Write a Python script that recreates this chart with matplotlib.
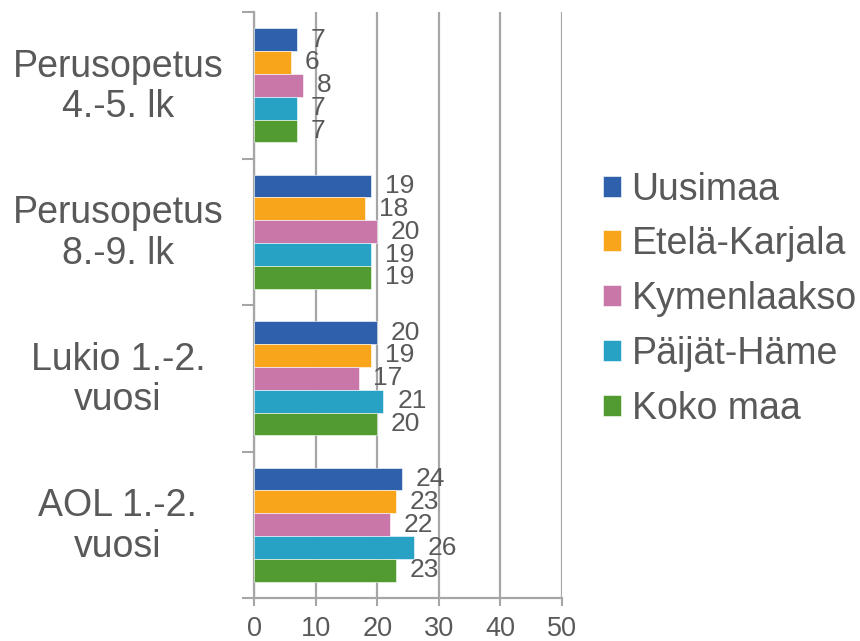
import matplotlib.pyplot as plt
import numpy as np

plt.rcParams['font.family'] = ['Liberation Sans', 'DejaVu Sans']

# data
categories = ['Perusopetus\n4.-5. lk', 'Perusopetus\n8.-9. lk', 'Lukio 1.-2.\nvuosi', 'AOL 1.-2.\nvuosi']
series = ['Uusimaa', 'Etelä-Karjala', 'Kymenlaakso', 'Päijät-Häme', 'Koko maa']
uusimaa = [7, 19, 20, 24]
etela_karjala = [6, 18, 19, 23]
kymenlaakso = [8, 20, 17, 22]
paijat_hame = [7, 19, 21, 26]
koko_maa = [7, 19, 20, 23]
xticks = [0, 10, 20, 30, 40, 50]

values = [uusimaa, etela_karjala, kymenlaakso, paijat_hame, koko_maa]
colors = ['#2E60AC', '#F8A51C', '#C977A9', '#27A1C4', '#529B31']
text_col = '#595959'
grid_col = '#A6A6A6'

fig = plt.figure(figsize=(8.6, 6.41), dpi=100)
ax = fig.add_axes([254 / 860, 1 - 598 / 641, (562 - 254) / 860, (598 - 12) / 641])

y = np.arange(len(categories))
h = 0.156
for j, (name, vals, c) in enumerate(zip(series, values, colors)):
    pos = y + (j - 2) * h
    ax.barh(pos, vals, height=h, color=c, label=name, zorder=3,
            edgecolor='white', linewidth=0.4)
    for p, v in zip(pos, vals):
        ax.annotate(str(v), (v, p), xytext=(10, 0), textcoords='offset points',
                    va='center', ha='left', fontsize=19, color=text_col, zorder=4)

ax.set_xlim(0, 50)
ax.set_ylim(len(categories) - 0.5, -0.5)
ax.set_xticks(xticks)
ax.set_xticklabels([str(t) for t in xticks], fontsize=19.5, color=text_col)
ax.tick_params(axis='x', length=6, width=1.5, color=grid_col, pad=7)

ax.set_yticks(np.arange(-0.5, len(categories), 1.0))
ax.set_yticklabels([])
ax.tick_params(axis='y', which='major', length=9, width=1.5, color=grid_col)
ax.set_yticks(y - 0.03, minor=True)
ax.set_yticklabels(categories, minor=True, fontsize=27, color=text_col,
                   ha='center', linespacing=1.15)
ax.tick_params(axis='y', which='minor', length=0, pad=98)

ax.grid(axis='x', color=grid_col, linewidth=1.6, zorder=0)
for s in ['top', 'right']:
    ax.spines[s].set_visible(False)
for s in ['left', 'bottom']:
    ax.spines[s].set_color(grid_col)
    ax.spines[s].set_linewidth(1.6)

fig.legend(loc='center left', bbox_to_anchor=(603 / 860, 1 - 299 / 641),
           frameon=False, fontsize=27, handlelength=0.48, handleheight=0.48,
           handletextpad=0.28, labelspacing=0.5, borderpad=0, borderaxespad=0,
           labelcolor=text_col)

fig.savefig('out.png', dpi=100)
